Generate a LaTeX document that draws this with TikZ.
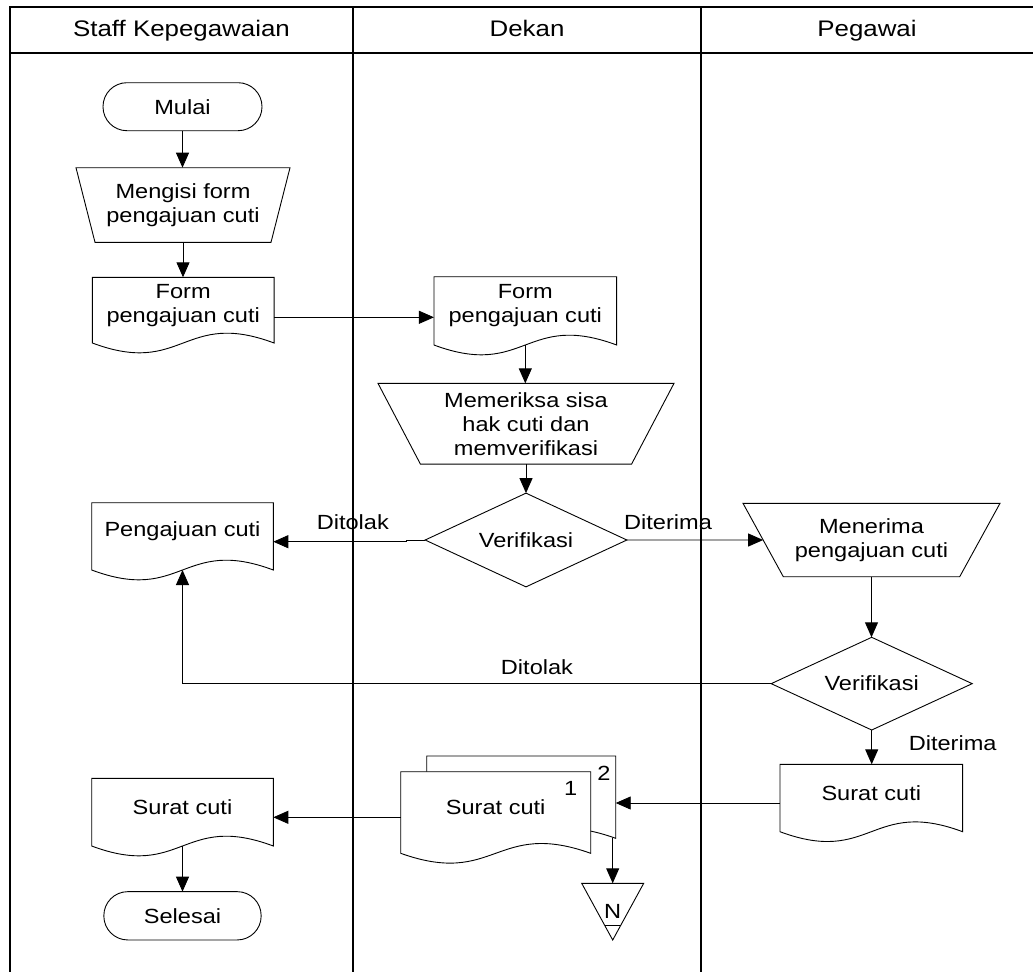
\documentclass[tikz,border=0pt]{standalone}
\usepackage{fontspec}
\setmainfont{Liberation Sans}[FakeStretch=1.15]
\usetikzlibrary{arrows.meta,calc,backgrounds}
\tikzset{
 shp/.style={draw=black, line width=0.9pt},
 box/.style={inner sep=0pt, outer sep=0pt, align=center},
 arr/.style={draw=black, line width=0.9pt, -{Triangle[length=15pt,width=13pt]}},
 lane/.style={draw=black, line width=1.4pt},
 lbl/.style={inner sep=0pt, anchor=base},
 hdr/.style={inner sep=0pt, anchor=base, font=\fontsize{22.5}{26}\selectfont},
 term/.style={box, draw=black, line width=0.9pt, rounded corners=23.9pt},
}
\newcommand\docout[1]{\draw[shp, fill=white] ([yshift=-10pt]#1.south west) -- (#1.north west) -- (#1.north east) -- ([yshift=-10pt]#1.south east) .. controls ([yshift=24pt]#1.south) and ([yshift=-44pt]#1.south) .. ([yshift=-10pt]#1.south west) -- cycle;}
\newcommand\trapout[2]{\draw[shp] (#1.north west) -- (#1.north east) -- ([xshift=-#2pt]#1.south east) -- ([xshift=#2pt]#1.south west) -- cycle;}
\newcommand\diamout[1]{\draw[shp] (#1.north) -- (#1.east) -- (#1.south) -- (#1.west) -- cycle;}
\begin{document}
\begin{tikzpicture}[x=1pt,y=-1pt, font=\fontsize{20.5}{24}\selectfont]
\useasboundingbox (0,0) rectangle (1033,972);
% swimlane frame
\draw[lane] (1033,7) -- (10,7) -- (10,972);
\draw[lane] (10,53) -- (1033,53);
\draw[lane] (353,7) -- (353,972);
\draw[lane] (701,7) -- (701,972);
\node[hdr] (h1) at (181.5,36.7) {Staff Kepegawaian};
\node[hdr] (h2) at (527,36.7) {Dekan};
\node[hdr] (h3) at (867,36.7) {Pegawai};
% nodes
\node[term, minimum width=159pt, minimum height=48pt] (mulai) at (182.5,106.7) {Mulai};
\node[box, minimum width=214pt, minimum height=74.6pt] (mengisi) at (183,205) {Mengisi form\\pengajuan cuti};
\node[box, minimum width=181.7pt, minimum height=55.7pt] (formS) at (183.2,305.15) {Form\\pengajuan cuti};
\node[box, minimum width=182.7pt, minimum height=58.3pt] (formD) at (525.3,305.85) {Form\\pengajuan cuti};
\node[box, minimum width=296pt, minimum height=80.7pt] (memeriksa) at (526,423.7) {Memeriksa sisa\\hak cuti dan\\memverifikasi};
\node[box, minimum width=201.7pt, minimum height=93.7pt] (v1) at (526,540) {Verifikasi};
\node[box, minimum width=181.6pt, minimum height=57.3pt] (pengaj) at (182.5,531.35) {Pengajuan cuti};
\node[box, minimum width=257pt, minimum height=73.4pt] (menerima) at (871.5,540) {Menerima\\pengajuan cuti};
\node[box, minimum width=201pt, minimum height=92.7pt] (v2) at (871.7,683.65) {Verifikasi};
\node[box, minimum width=182.7pt, minimum height=57.4pt] (suratP) at (871.3,793) {Surat cuti};
\node[box, minimum width=189pt, minimum height=72.3pt] (surat2) at (521.2,792.15) {};
\node[box, minimum width=190pt, minimum height=71.6pt] (surat1) at (495.7,807.5) {Surat cuti};
\node[box, minimum width=62pt, minimum height=56.7pt] (N) at (612.7,911.65) {N};
\node[box, minimum width=181.6pt, minimum height=57.7pt] (suratS) at (182.5,807.15) {Surat cuti};
\node[term, minimum width=157.3pt, minimum height=48.3pt] (selesai) at (182.5,915.8) {Selesai};
% labels
\node[lbl] (lt1) at (352.8,529) {Ditolak};
\node[lbl] (lr1) at (668,529) {Diterima};
\node[lbl] (lt2) at (537,674) {Ditolak};
\node[lbl] (lr2) at (952.7,750) {Diterima};
\node[lbl] (n1) at (570.7,795) {1};
\node[lbl] (n2) at (604,780) {2};
% outlines
\begin{pgfonlayer}{background}
\trapout{mengisi}{19}
\docout{formS}
\docout{formD}
\trapout{memeriksa}{42.4}
\diamout{v1}
\docout{pengaj}
\trapout{menerima}{40.3}
\diamout{v2}
\docout{suratP}
\docout{surat2}
\docout{surat1}
\docout{suratS}
\draw[shp] (N.north west) -- (N.north east) -- (N.south) -- cycle;
\draw[shp] ($(N.south)+(-8.2,-15)$) -- ($(N.south)+(8.2,-15)$);
\end{pgfonlayer}
% connectors
\draw[arr] (mulai.south) -- (mulai.south |- mengisi.north);
\draw[arr] (mengisi.south) -- (mengisi.south |- formS.north);
\coordinate (c1) at ([yshift=-12.15pt]formS.east);
\draw[arr] (c1) -- (c1 -| formD.west);
\draw[arr] ([yshift=-10pt]formD.south) -- (formD.south |- memeriksa.north);
\draw[arr] (memeriksa.south) -- (v1.north);
\coordinate (c2) at ([yshift=-10.35pt]pengaj.east);
\draw[arr] (v1.west) -- ++(-18.3,0) |- (c2);
\coordinate (mw) at ($(menerima.north west)!0.5!([xshift=40.3pt]menerima.south west)$);
\draw[arr] (v1.east) -- (mw);
\draw[arr] (menerima.south) -- (menerima.south |- v2.north);
\draw[arr] (v2.west) -| ([yshift=-10pt]pengaj.south);
\draw[arr] (v2.south) -- (v2.south |- suratP.north);
\coordinate (c3) at ([yshift=-10pt]suratP.west);
\draw[arr] (c3) -- (c3 -| surat2.east);
\coordinate (c4) at ([yshift=-9.8pt]surat1.west);
\draw[arr] (c4) -- (c4 -| suratS.east);
\draw[arr] ([xshift=-3pt,yshift=-10pt]surat2.south east) -- (N.north);
\draw[arr] ([yshift=-10pt]suratS.south) -- (suratS.south |- selesai.north);
\end{tikzpicture}
\end{document}
